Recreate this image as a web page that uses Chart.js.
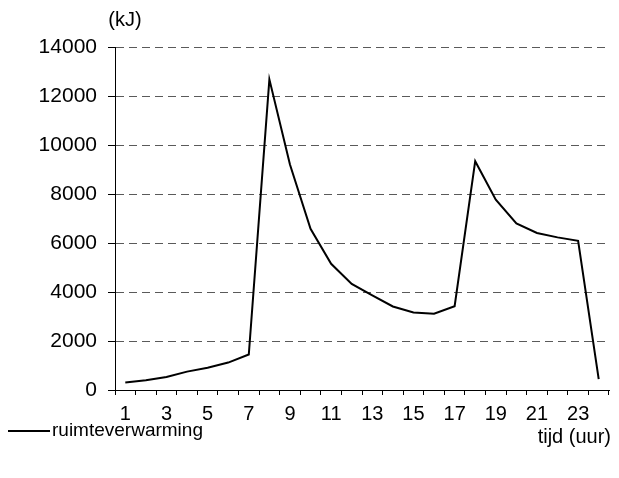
<!DOCTYPE html>
<html>
<head>
<meta charset="utf-8">
<script src="https://cdn.jsdelivr.net/npm/chart.js@4"></script>
<style>
  html, body { margin: 0; padding: 0; background: #fff; }
  #wrap { width: 619px; height: 478px; }
</style>
</head>
<body>
<div id="wrap"><canvas id="chart" width="619" height="478"></canvas></div>
<script>
// hours of the day
const hours = ["1","2","3","4","5","6","7","8","9","10","11","12",
               "13","14","15","16","17","18","19","20","21","22","23","24"];
// energy for space heating per hour (kJ)
const heating = [310, 400, 530, 750, 910, 1120, 1450, 12680, 9200, 6580, 5150, 4330,
                 3860, 3410, 3160, 3110, 3420, 9340, 7770, 6800, 6410, 6230, 6090, 440];
const yTicks = [0, 2000, 4000, 6000, 8000, 10000, 12000, 14000];

const FONT = "'Liberation Sans', Arial, sans-serif";

// extra texts: unit label, legend, x axis title
const labels = {
  id: 'labels',
  afterDraw(chart) {
    const c = chart.ctx;
    c.save();
    c.fillStyle = '#000';
    c.textBaseline = 'middle';
    c.font = '20px ' + FONT;
    c.textAlign = 'center';
    c.fillText('(kJ)', 125, 20);
    c.textAlign = 'right';
    c.fillText('tijd (uur)', 611, 437);
    c.font = '19px ' + FONT;
    c.textAlign = 'left';
    c.fillText('ruimteverwarming', 52, 431);
    c.strokeStyle = '#000';
    c.lineWidth = 2;
    c.beginPath();
    c.moveTo(8, 431);
    c.lineTo(50, 431);
    c.stroke();
    c.restore();
  }
};

new Chart(document.getElementById('chart'), {
  type: 'line',
  data: {
    labels: hours,
    datasets: [{
      label: 'ruimteverwarming',
      data: heating,
      borderColor: '#000',
      borderWidth: 2,
      tension: 0,
      pointRadius: 0,
      fill: false
    }]
  },
  options: {
    responsive: false,
    animation: false,
    layout: { padding: { top: 47, right: 10, left: 0, bottom: 0 } },
    plugins: { legend: { display: false }, tooltip: { enabled: false } },
    scales: {
      x: {
        offset: true,
        grid: { offset: true, drawOnChartArea: false, drawTicks: true, tickLength: 5, tickColor: '#000' },
        border: { color: '#000', width: 1 },
        ticks: {
          color: '#000',
          font: { size: 20, family: FONT },
          padding: 7,
          autoSkip: false,
          maxRotation: 0,
          callback: (v, i) => (i % 2 === 0 ? hours[i] : '')
        },
        afterFit: s => { s.height = 88; }
      },
      y: {
        min: 0,
        max: 14000,
        afterBuildTicks: s => { s.ticks = yTicks.map(v => ({ value: v })); },
        grid: { color: '#5a5a5a', tickColor: '#000', tickLength: 7, lineWidth: 1 },
        border: { color: '#000', width: 1, dash: [8, 5] },
        ticks: {
          color: '#000',
          font: { size: 21, family: FONT },
          padding: 11,
          callback: v => String(v)
        },
        afterFit: s => { s.width = 115; }
      }
    }
  },
  plugins: [labels]
});
</script>
</body>
</html>
